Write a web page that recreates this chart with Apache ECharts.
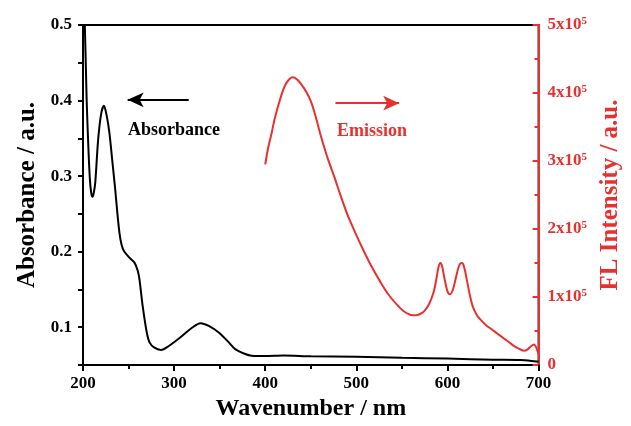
<!DOCTYPE html>
<html><head><meta charset="utf-8">
<script src="https://cdn.jsdelivr.net/npm/echarts@6/dist/echarts.min.js"></script>
<style>html,body{margin:0;padding:0;background:#fff}#c{width:631px;height:426px}</style>
</head><body><div id="c"></div>
<script>
const absX = [200,202,204,206,207.6,209,210.5,212,213.5,216.6,220,223,226,229,232,235,240,244,251,256.5,260,262,265.5,270,273,278,285.5,294.6,302,309,320,329,338,349,360,367,378,385,400,420,450,500,550,600,650,680,700];
const absY = [0.56,0.5,0.401,0.335,0.295,0.278,0.2726,0.279,0.292,0.348,0.383,0.393,0.38,0.357,0.322,0.2866,0.225,0.203,0.192,0.1855,0.175,0.163,0.128,0.093,0.080,0.0733,0.070,0.0755,0.082,0.0887,0.0997,0.1054,0.1018,0.093,0.080,0.071,0.0645,0.0623,0.0618,0.0625,0.0615,0.0608,0.0595,0.0585,0.057,0.0565,0.0545];
const emX = [400,403,407,410,414,418,421,425,430,435,440,445,450,455,461,468,476,483,490,500,508,517,526,535,545,552,559,565,570,575,580,585,588,590,592,594,596,599,601,603,606,609,612,615,617,619,622,625,628,632,636,642,648,655,662,668,674,680,684,688,692,695,697,699,700];
const emY = [295000,318000,341000,360000,380000,398000,409000,418000,423000,420000,412000,402000,388000,367000,337000,306000,276000,248000,222000,191000,168000,144000,123000,104000,88000,79000,74000,73000,75000,80000,90000,108000,128000,143000,150000,146000,132000,113000,105000,104000,111000,127000,143000,150000,149000,140000,120000,100000,85000,74000,67000,59000,53000,46000,39000,33000,27000,23000,21000,23000,28000,30000,27000,20000,16000];
const xTicks = [200,300,400,500,600,700];
const leftTicks = [0.1,0.2,0.3,0.4,0.5];
const rightTicks = [0,100000,200000,300000,400000,500000];
const absArrow = [[316,0.401],[249,0.401]];
const emArrow = [[477,385000],[547,385000]];

const RED = '#e8312f';
const FONT = '"Liberation Serif", "Times New Roman", serif';
const chart = echarts.init(document.getElementById('c'), null, {renderer:'canvas'});
chart.setOption({
  animation:false,
  backgroundColor:'#fff',
  grid:{left:83,right:88,top:25,bottom:60,show:true,borderColor:'#000',borderWidth:2,backgroundColor:'transparent'},
  xAxis:{type:'value',min:200,max:700,interval:100,
    name:'Wavenumber / nm',nameLocation:'middle',nameGap:32,
    nameTextStyle:{fontFamily:FONT,fontWeight:'bold',fontSize:24,color:'#000'},
    axisLine:{lineStyle:{color:'#000',width:2}},
    axisTick:{length:6,lineStyle:{width:2,color:'#000'}},
    minorTick:{show:true,splitNumber:2,length:4,lineStyle:{width:2,color:'#000'}},
    splitLine:{show:false},
    axisLabel:{margin:10,fontFamily:FONT,fontWeight:'bold',fontSize:17,color:'#000',
      formatter:v=>xTicks.includes(v)?String(v):''}
  },
  yAxis:[
    {type:'value',min:0.05,max:0.5,interval:0.05,position:'left',
     name:'Absorbance / a.u.',nameLocation:'middle',nameGap:43,
     nameTextStyle:{fontFamily:FONT,fontWeight:'bold',fontSize:25,color:'#000'},
     axisLine:{show:true,lineStyle:{color:'#000',width:2}},
     axisTick:{show:true,length:5,lineStyle:{width:2,color:'#000'}},
     splitLine:{show:false},
     axisLabel:{margin:11,fontFamily:FONT,fontWeight:'bold',fontSize:17,color:'#000',
       formatter:v=>{const r=Math.round(v*100)/100;return leftTicks.some(t=>Math.abs(t-r)<1e-6)?r.toFixed(1):'';}}
    },
    {type:'value',min:0,max:500000,interval:100000,position:'right',
     name:'FL Intensity / a.u.',nameLocation:'middle',nameGap:55,nameRotate:90,
     nameTextStyle:{fontFamily:FONT,fontWeight:'bold',fontSize:25,color:RED},
     axisLine:{show:true,lineStyle:{color:RED,width:2}},
     axisTick:{show:true,inside:true,length:6,lineStyle:{width:2,color:RED}},
     minorTick:{show:true,splitNumber:2,length:4,lineStyle:{width:2,color:RED}},
     splitLine:{show:false},
     axisLabel:{margin:9,fontFamily:FONT,fontWeight:'bold',fontSize:17,color:RED,
       formatter:v=>{if(!rightTicks.includes(v))return '';if(v===0)return '0';return (v/100000)+'x10{s|5}';},
       rich:{s:{fontFamily:FONT,fontWeight:'bold',fontSize:11,color:RED,verticalAlign:'top',padding:[0,0,7,0]}}}
    }
  ],
  series:[
    {type:'line',xAxisIndex:0,yAxisIndex:0,data:absX.map((x,i)=>[x,absY[i]]),
     showSymbol:false,smooth:0.3,clip:true,lineStyle:{color:'#000',width:2},
     markLine:{silent:true,symbol:['none','arrow'],symbolSize:[11,16],
       lineStyle:{color:'#000',width:2,type:'solid'},label:{show:false},
       data:[[{coord:absArrow[0]},{coord:absArrow[1]}]]}
    },
    {type:'line',xAxisIndex:0,yAxisIndex:1,data:emX.map((x,i)=>[x,emY[i]]),
     showSymbol:false,smooth:0.3,lineStyle:{color:RED,width:2},
     markLine:{silent:true,symbol:['none','arrow'],symbolSize:[11,16],
       lineStyle:{color:RED,width:2,type:'solid'},label:{show:false},
       data:[[{coord:emArrow[0]},{coord:emArrow[1]}]]}
    }
  ],
  graphic:[
    {type:'text',left:128,top:121,style:{text:'Absorbance',fontFamily:FONT,fontWeight:'bold',fontSize:18,fill:'#000'}},
    {type:'text',left:337,top:122,style:{text:'Emission',fontFamily:FONT,fontWeight:'bold',fontSize:18,fill:RED}}
  ]
});
</script></body></html>
